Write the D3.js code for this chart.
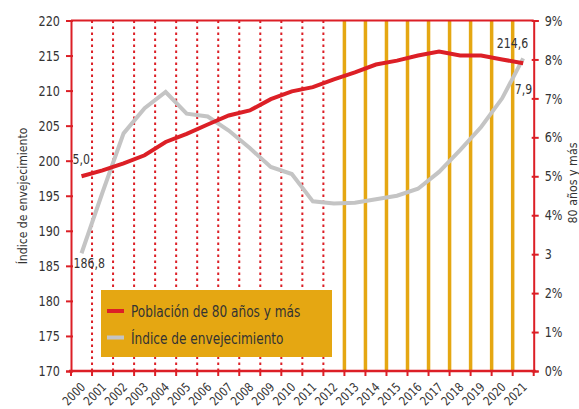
<!DOCTYPE html>
<html>
<head>
<meta charset="utf-8">
<script src="https://cdn.jsdelivr.net/npm/d3@7"></script>
<style>
  body { margin: 0; background: #fff; }
  text { font-family: "DejaVu Sans Condensed", "Liberation Sans Narrow", sans-serif; fill: #333; }
</style>
</head>
<body>
<div id="chart"></div>
<script>
// Data
const years = ["2000", "2001", "2002", "2003", "2004", "2005", "2006", "2007", "2008", "2009", "2010",
               "2011", "2012", "2013", "2014", "2015", "2016", "2017", "2018", "2019", "2020", "2021"];
const poblacion80 = [5.0, 5.15, 5.33, 5.54, 5.88, 6.09, 6.33, 6.56, 6.69, 6.98, 7.18,
                     7.29, 7.49, 7.67, 7.87, 7.97, 8.1, 8.2, 8.1, 8.1, 8.0, 7.9];
const indiceEnvej = [186.8, 195.5, 203.9, 207.5, 209.8, 206.7, 206.3, 204.3, 201.8, 199.1, 198.1,
                     194.2, 193.9, 194.0, 194.5, 195.0, 196.0, 198.4, 201.5, 204.8, 208.9, 214.6];
const leftTicks = [170, 175, 180, 185, 190, 195, 200, 205, 210, 215, 220];
const rightTicks = [0, 1, 2, 3, 4, 5, 6, 7, 8, 9];
const rightTickLabels = ["0%", "1%", "2%", "3", "4%", "5%", "6%", "7%", "8%", "9%"];
const legendLabels = ["Población de 80 años y más", "Índice de envejecimiento"];

const red = "#dc1f26", gray = "#c4c4c4", gold = "#e5a712";

const W = 579, H = 409;
const margin = { left: 71, right: 533.7, top: 20.5, bottom: 371 };

// squeeze text horizontally to mimic the condensed face of the original
function squeeze(sel, sx) {
    sel.each(function() {
        const t = d3.select(this);
        const tx = +t.attr("x") || 0, ty = +t.attr("y") || 0;
        const tr = t.attr("transform") || "";
        t.attr("x", 0).attr("y", 0)
         .attr("transform", `${tr} translate(${tx},${ty}) scale(${sx},1)`);
    });
}

const svg = d3.select("#chart").append("svg")
    .attr("width", W)
    .attr("height", H);

// Scales
const x = d3.scaleBand().domain(years).range([margin.left, margin.right]).padding(0);
const yL = d3.scaleLinear().domain([170, 220]).range([margin.bottom, margin.top]);
const yR = d3.scaleLinear().domain([0, 9]).range([margin.bottom, margin.top]);
const cx = d => x(d) + x.bandwidth() / 2;

// Vertical separators: dotted red until 2012, solid gold afterwards
years.forEach((yr, i) => {
    if (i === 0) return;
    const line = svg.append("line")
        .attr("x1", x(yr)).attr("x2", x(yr))
        .attr("y1", margin.top).attr("y2", margin.bottom);
    if (i <= 12) {
        line.attr("stroke", red).attr("stroke-width", 2).attr("stroke-dasharray", "2.5,3.5");
    } else {
        line.attr("stroke", gold).attr("stroke-width", 3.5);
    }
});

// Top border
svg.append("line")
    .attr("x1", margin.left).attr("x2", margin.right)
    .attr("y1", margin.top).attr("y2", margin.top)
    .attr("stroke", red).attr("stroke-width", 2);

// Legend
const legend = svg.append("g").attr("transform", "translate(101,290)");
legend.append("rect")
    .attr("width", 231).attr("height", 67)
    .attr("fill", gold);
[red, gray].forEach((c, i) => {
    legend.append("line")
        .attr("x1", 6).attr("x2", 23)
        .attr("y1", 21 + i * 26.5).attr("y2", 21 + i * 26.5)
        .attr("stroke", c).attr("stroke-width", 4);
    legend.append("text")
        .attr("x", 30).attr("y", 27 + i * 26.5)
        .style("font-size", "15px")
        .text(legendLabels[i]);
});
squeeze(legend.selectAll("text"), 0.9);

// Left axis
const axL = svg.append("g")
    .attr("transform", `translate(${margin.left},0)`)
    .call(d3.axisLeft(yL).tickValues(leftTicks).tickSize(5).tickPadding(6));
axL.select(".domain").attr("stroke", red).attr("stroke-width", 2);
axL.selectAll(".tick line").attr("stroke", red).attr("stroke-width", 2).attr("x2", -5).attr("x1", 2);
axL.selectAll(".tick text").style("font-size", "14.5px").attr("fill", "#333").call(squeeze, 0.86);

// Right axis
const axR = svg.append("g")
    .attr("transform", `translate(${margin.right},0)`)
    .call(d3.axisRight(yR).tickValues(rightTicks).tickSize(5).tickPadding(6)
        .tickFormat((d, i) => rightTickLabels[i]));
axR.select(".domain").attr("stroke", red).attr("stroke-width", 2);
axR.selectAll(".tick line").attr("stroke", red).attr("stroke-width", 2).attr("x1", -2);
axR.selectAll(".tick text").style("font-size", "14.5px").attr("fill", "#333").call(squeeze, 0.86);

// Bottom axis: ticks on the band boundaries, labels at band centres
svg.append("line")
    .attr("x1", margin.left - 2).attr("x2", margin.right + 2)
    .attr("y1", margin.bottom).attr("y2", margin.bottom)
    .attr("stroke", red).attr("stroke-width", 2.5);
years.concat(["end"]).forEach((yr, i) => {
    const px = i < years.length ? x(yr) : margin.right;
    svg.append("line")
        .attr("x1", px).attr("x2", px)
        .attr("y1", margin.bottom).attr("y2", margin.bottom + 5)
        .attr("stroke", red).attr("stroke-width", 2);
});
svg.append("g").selectAll("text")
    .data(years)
    .enter()
    .append("text")
        .attr("transform", d => `translate(${cx(d) + 4.5},${margin.bottom + 17}) rotate(-45)`)
        .attr("text-anchor", "end")
        .style("font-size", "12.5px")
        .text(d => d)
        .call(squeeze, 0.9);

// Axis titles
svg.append("text")
    .attr("transform", `translate(26.5,196) rotate(-90)`)
    .attr("text-anchor", "middle")
    .style("font-size", "13px")
    .text("Índice de envejecimiento")
    .call(squeeze, 0.93);
svg.append("text")
    .attr("transform", `translate(577,183) rotate(-90)`)
    .attr("text-anchor", "middle")
    .style("font-size", "13px")
    .text("80 años y más")
    .call(squeeze, 0.95);

// Lines
const lineL = d3.line().x((d, i) => cx(years[i])).y(d => yL(d));
const lineR = d3.line().x((d, i) => cx(years[i])).y(d => yR(d));
svg.append("path")
    .datum(indiceEnvej)
    .attr("fill", "none")
    .attr("stroke", gray)
    .attr("stroke-width", 4)
    .attr("d", lineL);
svg.append("path")
    .datum(poblacion80)
    .attr("fill", "none")
    .attr("stroke", red)
    .attr("stroke-width", 4)
    .attr("d", lineR);

// End-point labels
const fmt = v => v.toFixed(1).replace(".", ",");
const last = years.length - 1;
const notes = svg.append("g");
notes.append("text")
    .attr("x", cx(years[0]) - 9).attr("y", yR(poblacion80[0]) - 12)
    .text(fmt(poblacion80[0]));
notes.append("text")
    .attr("x", cx(years[0]) - 8).attr("y", yL(indiceEnvej[0]) + 15)
    .text(fmt(indiceEnvej[0]));
notes.append("text")
    .attr("x", cx(years[last]) + 5).attr("y", yL(indiceEnvej[last]) - 10)
    .attr("text-anchor", "end")
    .text(fmt(indiceEnvej[last]));
notes.append("text")
    .attr("x", cx(years[last]) + 9).attr("y", yR(poblacion80[last]) + 31)
    .attr("text-anchor", "end")
    .text(fmt(poblacion80[last]));
notes.selectAll("text").style("font-size", "14px").call(squeeze, 0.87);
</script>
</body>
</html>
